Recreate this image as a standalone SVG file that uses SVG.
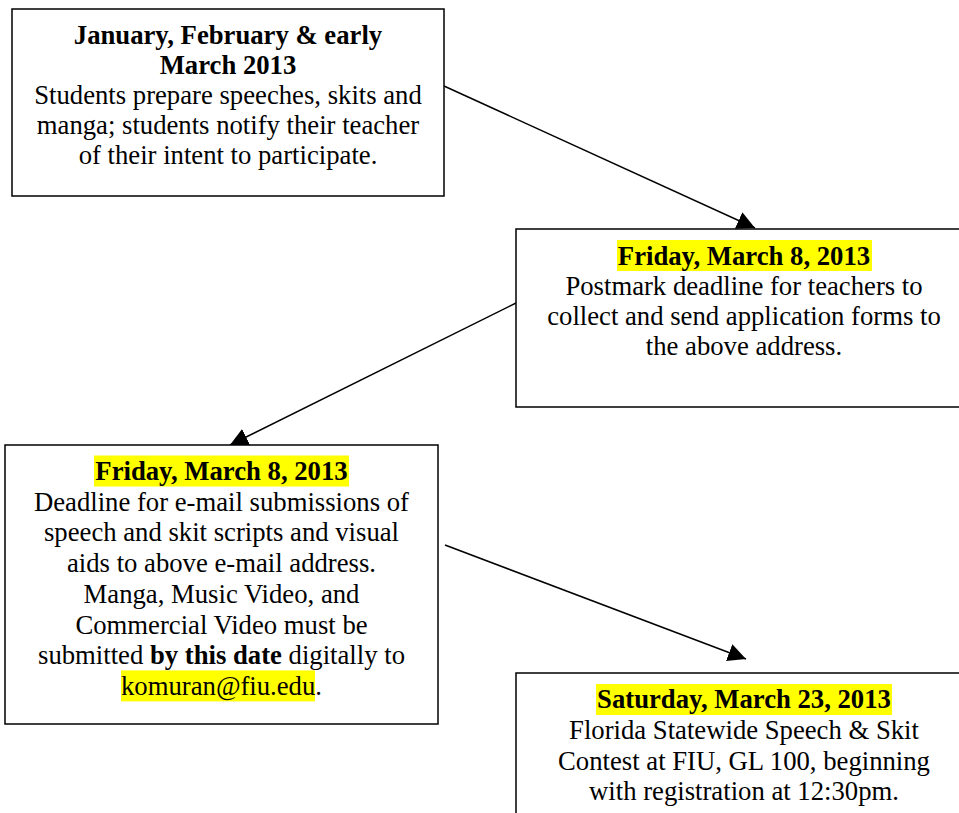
<svg xmlns="http://www.w3.org/2000/svg" width="959" height="813" viewBox="0 0 959 813">
<style>
.box{fill:#fff;stroke:#000;stroke-width:1.5}
.t{font-family:"Liberation Serif","Times New Roman",serif;font-size:26.7px;fill:#000;text-anchor:middle}
.b{font-weight:bold}
.hl{fill:#ffff00}
.conn{stroke:#000;stroke-width:1.5;fill:none;marker-end:url(#ah)}
</style>
<defs>
<marker id="ah" markerUnits="userSpaceOnUse" viewBox="0 0 18 18" markerWidth="18" markerHeight="18" refX="18" refY="9" orient="auto">
<path d="M0,0 L18,9 L0,18 z" fill="#000"/>
</marker>
</defs>
<rect width="959" height="813" fill="#fff"/>
<g id="connectors">
<line class="conn" x1="444" y1="86" x2="755" y2="228"/>
<line class="conn" x1="516" y1="303" x2="230" y2="445"/>
<line class="conn" x1="445" y1="545" x2="746" y2="659"/>
</g>
<g id="node1">
<rect class="box" x="12" y="9" width="432" height="187"/>
<text class="t b" x="228" y="44">January, February &amp; early</text>
<text class="t b" x="228" y="74">March 2013</text>
<text class="t" x="228" y="104">Students prepare speeches, skits and</text>
<text class="t" x="228" y="134">manga; students notify their teacher</text>
<text class="t" x="228" y="164">of their intent to participate.</text>
</g>
<g id="node2">
<rect class="box" x="516" y="229" width="460" height="178"/>
<rect class="hl" x="617" y="240" width="255" height="31"/>
<text class="t b" x="744" y="265">Friday, March 8, 2013</text>
<text class="t" x="744" y="295">Postmark deadline for teachers to</text>
<text class="t" x="744" y="325">collect and send application forms to</text>
<text class="t" x="744" y="355">the above address.</text>
</g>
<g id="node3">
<rect class="box" x="5" y="445" width="433" height="279"/>
<rect class="hl" x="94" y="455.5" width="255" height="31"/>
<rect class="hl" x="121" y="670.4" width="194" height="31"/>
<text class="t b" x="221.5" y="480">Friday, March 8, 2013</text>
<text class="t" x="221.5" y="510.7">Deadline for e-mail submissions of</text>
<text class="t" x="221.5" y="541.4">speech and skit scripts and visual</text>
<text class="t" x="221.5" y="572.1">aids to above e-mail address.</text>
<text class="t" x="221.5" y="602.8">Manga, Music Video, and</text>
<text class="t" x="221.5" y="633.5">Commercial Video must be</text>
<text class="t" x="221.5" y="664.2">submitted <tspan class="b">by this date</tspan> digitally to</text>
<text class="t" x="221.5" y="694.9">komuran@fiu.edu.</text>
</g>
<g id="node4">
<rect class="box" x="516" y="673" width="460" height="160"/>
<rect class="hl" x="596" y="684" width="296" height="31"/>
<text class="t b" x="744" y="708">Saturday, March 23, 2013</text>
<text class="t" x="744" y="739">Florida Statewide Speech &amp; Skit</text>
<text class="t" x="744" y="769.7">Contest at FIU, GL 100, beginning</text>
<text class="t" x="744" y="800.4">with registration at 12:30pm.</text>
</g>
</svg>
